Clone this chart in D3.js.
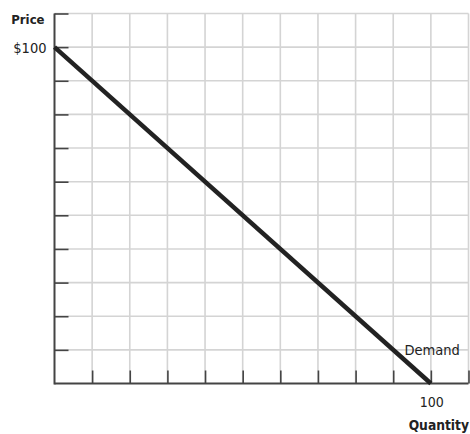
<!DOCTYPE html>
<html>
<head>
<meta charset="utf-8">
<script src="https://cdn.jsdelivr.net/npm/d3@7/dist/d3.min.js"></script>
<style>
html,body{margin:0;padding:0;background:#fff;}
svg text{font-family:"DejaVu Sans Condensed","DejaVu Sans",sans-serif;fill:#222;}
</style>
</head>
<body>
<svg id="chart" width="470" height="434"></svg>
<script>
// Data
const gridValues = [0,10,20,30,40,50,60,70,80,90,100,110];
const tickValues = [10,20,30,40,50,60,70,80,90,100,110];
const demandQuantity = [0, 100];
const demandPrice = [100, 0];
const yTickLabels = [{value:100, label:"$100"}];
const xTickLabels = [{value:100, label:"100"}];
const axisTitles = {x:"Quantity", y:"Price"};
const curveLabel = {text:"Demand", q:93, p:8.8};

(function(){
const svg = d3.select("#chart");
const mLeft = 54.5, mRight = 468.5, mTop = 13.5, mBottom = 383.5;
const x = d3.scaleLinear().domain([0,110]).range([mLeft,mRight]);
const y = d3.scaleLinear().domain([0,110]).range([mBottom,mTop]);

// grid
const g = svg.append("g");
g.selectAll(".vg").data(gridValues.slice(1)).join("line")
  .attr("x1",d=>x(d)).attr("x2",d=>x(d)).attr("y1",y(110)).attr("y2",y(0))
  .attr("stroke","#d4d4d4").attr("stroke-width",1.6);
g.selectAll(".hg").data(gridValues.slice(1)).join("line")
  .attr("y1",d=>y(d)).attr("y2",d=>y(d)).attr("x1",x(0)).attr("x2",x(110))
  .attr("stroke","#d4d4d4").attr("stroke-width",1.6);

// axes with inward ticks
const xAxis = d3.axisTop(x).tickValues(tickValues).tickSize(13).tickFormat("");
const yAxis = d3.axisRight(y).tickValues(tickValues).tickSize(14).tickFormat("");
const xa = svg.append("g").attr("transform",`translate(0,${mBottom})`).call(xAxis);
const ya = svg.append("g").attr("transform",`translate(${mLeft},0)`).call(yAxis);
[xa,ya].forEach(a=>{
  a.select(".domain").remove();
  a.selectAll(".tick line").attr("stroke","#444").attr("stroke-width",1.6);
});
svg.append("line").attr("x1",x(0)).attr("x2",x(110)).attr("y1",mBottom).attr("y2",mBottom)
  .attr("stroke","#444").attr("stroke-width",2);
svg.append("line").attr("x1",mLeft).attr("x2",mLeft).attr("y1",y(110)).attr("y2",mBottom+1)
  .attr("stroke","#444").attr("stroke-width",2);

// demand line
const line = d3.line().x(d=>x(d[0])).y(d=>y(d[1]));
svg.append("path").datum(demandQuantity.map((q,i)=>[q,demandPrice[i]]))
  .attr("d",line).attr("fill","none").attr("stroke","#222").attr("stroke-width",4.5);

// labels
svg.selectAll(".yl").data(yTickLabels).join("text")
  .attr("x",mLeft-8).attr("y",d=>y(d.value)+6).attr("text-anchor","end")
  .attr("font-size",14.5).text(d=>d.label);
svg.selectAll(".xl").data(xTickLabels).join("text")
  .attr("x",d=>x(d.value)+1).attr("y",407).attr("text-anchor","middle")
  .attr("font-size",14).text(d=>d.label);
svg.append("text").attr("x",mLeft-10).attr("y",24).attr("text-anchor","end")
  .attr("font-size",13).attr("font-weight","bold").text(axisTitles.y);
svg.append("text").attr("x",469).attr("y",430).attr("text-anchor","end")
  .attr("font-size",13.7).attr("font-weight","bold").text(axisTitles.x);
svg.append("text").attr("x",x(curveLabel.q)).attr("y",y(curveLabel.p)+1.5)
  .attr("font-size",14.5).text(curveLabel.text);
})();
</script>
</body>
</html>
